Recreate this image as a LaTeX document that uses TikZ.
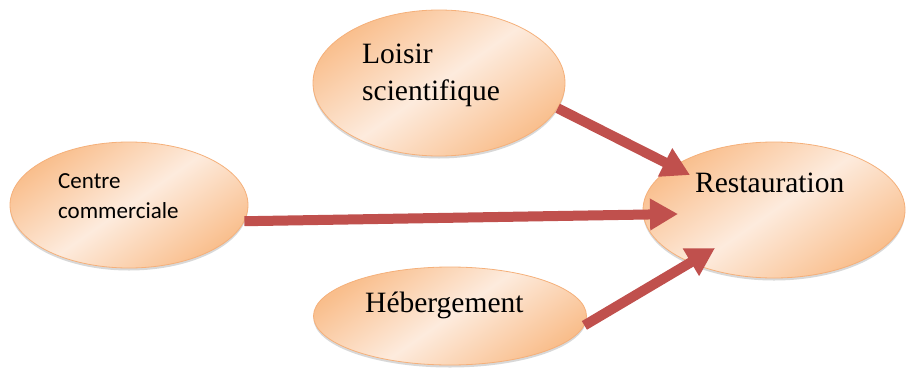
\documentclass[tikz,border=0pt]{standalone}
\usepackage{fontspec}
\setmainfont{Liberation Serif}
\newfontfamily\calibri{Carlito}
\usetikzlibrary{shapes.geometric,arrows.meta,shadows,calc}
\definecolor{peachdk}{HTML}{F9BE8C}
\definecolor{peachlt}{HTML}{FDEBDD}
\definecolor{peachedge}{HTML}{F5B07A}
\definecolor{arrowred}{HTML}{C0504D}
\begin{document}
\begin{tikzpicture}[x=1pt,y=-1pt,
    bubble/.style={ellipse, inner sep=0pt, draw=peachedge, line width=0.8pt,
        top color=peachdk, bottom color=peachdk, middle color=peachlt, shading angle=35,
        drop shadow={shadow xshift=0pt, shadow yshift=-2.5pt, opacity=0.3}},
    lbl/.style={anchor=base west, inner sep=0pt, align=left, font=\fontsize{29.5}{37}\selectfont},
    flow/.style={draw=arrowred, line width=10pt, -{Triangle[length=28pt,width=30pt]}}]
        \fill[white] (0,0) rectangle (907,367);
        % the four places
        \node[bubble, minimum width=252pt, minimum height=146pt] (loisir) at (439,83) {};
        \node[bubble, minimum width=238pt, minimum height=126pt] (centre) at (129,205) {};
        \node[bubble, minimum width=273pt, minimum height=98pt] (heberg) at (450,316) {};
        \node[bubble, minimum width=262pt, minimum height=136pt] (resto) at (774,210) {};
        \node[lbl] (loisirtxt) at ($(loisir.center)+(-77,17)$) {Loisir\\scientifique};
        \node[lbl, font=\calibri\fontsize{23}{30}\selectfont] (centretxt) at ($(centre.center)+(-71,13)$) {Centre\\commerciale};
        \node[lbl] (hebergtxt) at ($(heberg.center)+(-85,-4)$) {Hébergement};
        \node[lbl] (restotxt) at ($(resto.center)+(-79,-18)$) {Restauration};
        % arrows into the restaurant
        \coordinate (tipa) at (690,175);
        \coordinate (tipb) at (678,214);
        \coordinate (tipc) at (715,248);
        \draw[flow] (loisir.-12) -- (tipa);
        \draw[flow] (centre.-8) -- (tipb);
        \draw[flow] (heberg.-4) -- (tipc);
    \end{tikzpicture}
\end{document}
